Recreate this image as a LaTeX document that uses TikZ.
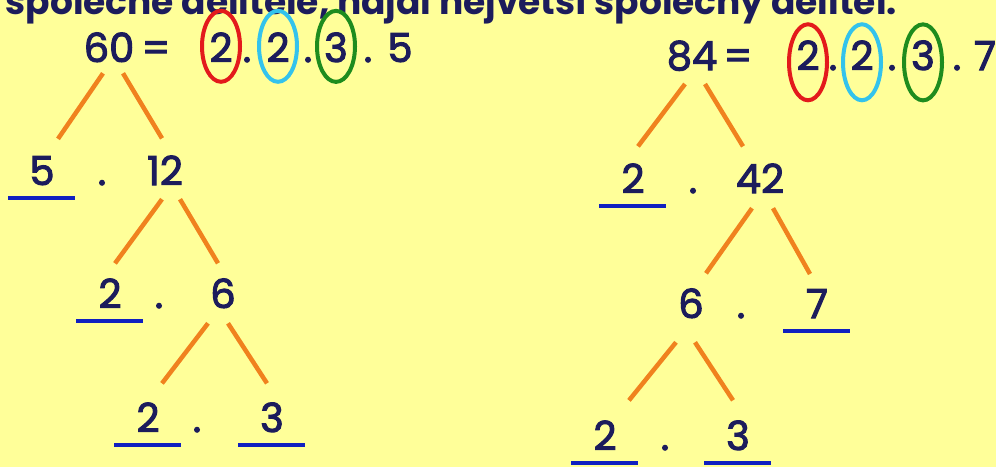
\documentclass[tikz,border=0pt]{standalone}
\usepackage{fontspec}
\setmainfont{Poppins}
\newfontfamily\digitfont[FakeBold=2.6]{Poppins}
\definecolor{paper}{HTML}{FFFF99}
\definecolor{inkblue}{HTML}{1C1C5C}
\definecolor{stemorange}{HTML}{F0821E}
\definecolor{markblue}{HTML}{1020C0}
\definecolor{ringred}{HTML}{E31A1C}
\definecolor{ringcyan}{HTML}{33C3EC}
\definecolor{ringgreen}{HTML}{1E8C1E}
\tikzset{
  num/.style={font=\digitfont\fontsize{40}{40}\selectfont, text=inkblue, inner sep=0pt, anchor=base},
  branch/.style={draw=stemorange, line width=4.5pt},
  uline/.style={draw=markblue, line width=4pt},
  ring/.style={draw=#1, line width=4pt},
  headline/.style={font=\bfseries\fontsize{36}{36}\selectfont, text=inkblue, inner sep=0pt, anchor=base east}
}
\begin{document}
\begin{tikzpicture}[x=1pt,y=-1pt]
  \useasboundingbox (0,0) rectangle (996,467);
  \clip (0,0) rectangle (996,467);
  \fill[paper] (0,0) rectangle (996,467);
  \node[headline] (head) at (897,14) {společné dělitele, najdi největší společný dělitel.};

  \node[num] (n60) at (109,62) {60};
  \node[num] (leq) at (156,62) {=};
  \node[num] (lc1) at (221,62) {2};
  \node[num] (ld1) at (247,62) {.};
  \node[num] (lc2) at (278,62) {2};
  \node[num] (ld2) at (308,62) {.};
  \node[num] (lc3) at (336,62) {3};
  \node[num] (ld3) at (368,62) {.};
  \node[num] (lr5) at (400,62) {5};
  \draw[ring=ringred] ([yshift=1pt]lc1.center) ellipse [x radius=19, y radius=35.5];
  \draw[ring=ringcyan] ([yshift=1pt]lc2.center) ellipse [x radius=19, y radius=35.5];
  \draw[ring=ringgreen] ([yshift=1pt]lc3.center) ellipse [x radius=19, y radius=35.5];

  \node[num] (l5) at (42,185) {5};
  \node[num] (ld4) at (102,185) {.};
  \node[num] (l12) at (165,185) {12};
  \node[num] (l2a) at (110,308) {2};
  \node[num] (ld5) at (159,308) {.};
  \node[num] (l6) at (223,308) {6};
  \node[num] (l2b) at (148,432) {2};
  \node[num] (ld6) at (197,432) {.};
  \node[num] (l3) at (272,432) {3};

  \draw[branch] ([xshift=-6pt,yshift=-11pt]n60.south) -- ([xshift=16pt,yshift=17pt]l5.north);
  \draw[branch] ([xshift=14pt,yshift=-11pt]n60.south) -- ([xshift=-3pt,yshift=17pt]l12.north);
  \draw[branch] ([xshift=-3pt,yshift=-14pt]l12.south) -- ([xshift=5pt,yshift=15pt]l2a.north);
  \draw[branch] ([xshift=15pt,yshift=-14pt]l12.south) -- ([xshift=-5pt,yshift=15pt]l6.north);
  \draw[branch] ([xshift=-15pt,yshift=-15pt]l6.south) -- ([xshift=14pt,yshift=19pt]l2b.north);
  \draw[branch] ([xshift=5pt,yshift=-15pt]l6.south) -- ([xshift=-5pt,yshift=19pt]l3.north);

  \node[num] (n84) at (692,70) {84};
  \node[num] (req) at (738,70) {=};
  \node[num] (rc1) at (808,70) {2};
  \node[num] (rd1) at (833,70) {.};
  \node[num] (rc2) at (862,70) {2};
  \node[num] (rd2) at (892,70) {.};
  \node[num] (rc3) at (923,70) {3};
  \node[num] (rd3) at (957,70) {.};
  \node[num] (rr7) at (985,70) {7};
  \draw[ring=ringred] ([yshift=-7pt]rc1.center) ellipse [x radius=19, y radius=38];
  \draw[ring=ringcyan] ([yshift=-7pt]rc2.center) ellipse [x radius=19, y radius=38];
  \draw[ring=ringgreen] ([yshift=-7pt]rc3.center) ellipse [x radius=19, y radius=38];

  \node[num] (r2) at (633,193) {2};
  \node[num] (rd4) at (693,193) {.};
  \node[num] (r42) at (760,193) {42};
  \node[num] (r6) at (691,318) {6};
  \node[num] (rd5) at (741,318) {.};
  \node[num] (r7) at (817,318) {7};
  \node[num] (r2b) at (605,450) {2};
  \node[num] (rd6) at (665,450) {.};
  \node[num] (r3b) at (738,450) {3};

  \draw[branch] ([xshift=-7pt,yshift=-13pt]n84.south) -- ([xshift=5pt,yshift=17pt]r2.north);
  \draw[branch] ([xshift=13pt,yshift=-13pt]n84.south) -- ([xshift=-17pt,yshift=17pt]r42.north);
  \draw[branch] ([xshift=-8pt,yshift=-15pt]r42.south) -- ([xshift=15pt,yshift=15pt]r6.north);
  \draw[branch] ([xshift=13pt,yshift=-15pt]r42.south) -- ([xshift=-7pt,yshift=15pt]r7.north);
  \draw[branch] ([xshift=-15pt,yshift=-24pt]r6.south) -- ([xshift=24pt,yshift=20pt]r2b.north);
  \draw[branch] ([xshift=4pt,yshift=-24pt]r6.south) -- ([xshift=-5pt,yshift=20pt]r3b.north);

  \foreach \n in {l5,l2a,l2b,l3,r2,r7,r2b,r3b}
    \draw[uline] ([xshift=-34pt,yshift=-13pt]\n.base) -- ++(67pt,0);
\end{tikzpicture}
\end{document}
